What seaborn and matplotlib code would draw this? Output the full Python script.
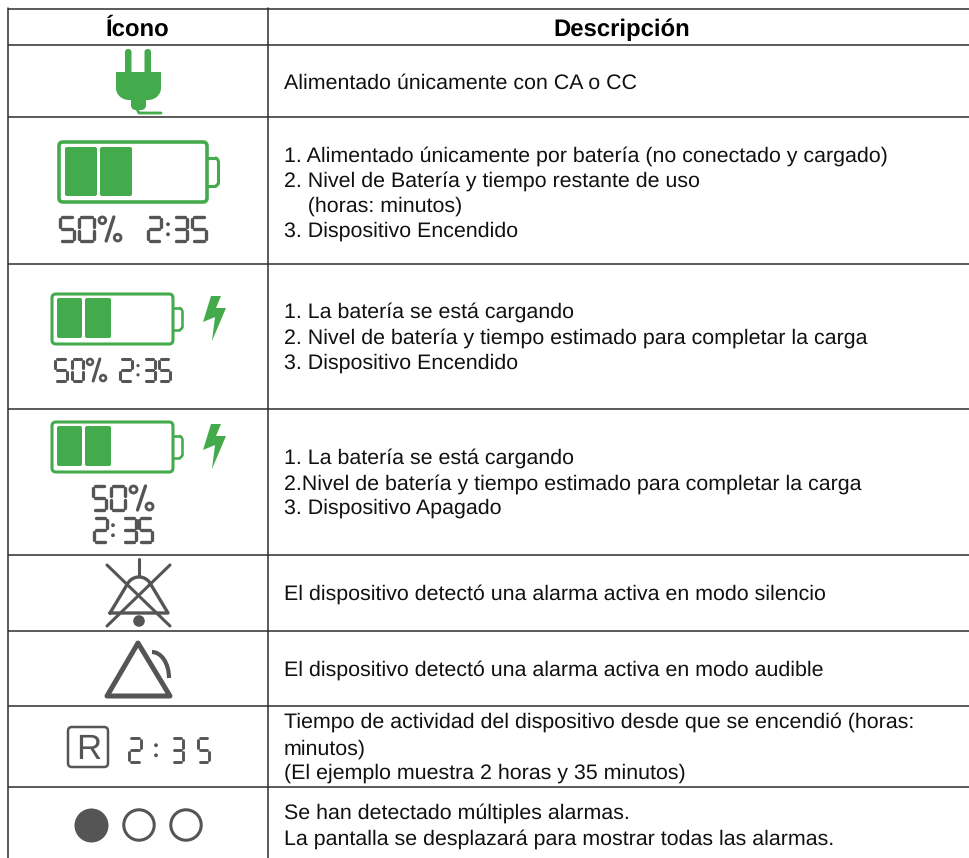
"""
Tabla de iconos del dispositivo (icono + descripcion)
"""

import numpy as np
import matplotlib.pyplot as plt
from matplotlib.patches import FancyBboxPatch, Polygon, Circle, Arc
import seaborn as sns

GREEN = '#43ab4c'
GREY = '#555555'

headers = ['Ícono', 'Descripción']

descriptions = [
    ['Alimentado únicamente con CA o CC'],
    ['1. Alimentado únicamente por batería (no conectado y cargado)',
     '2. Nivel de Batería y tiempo restante de uso',
     '    (horas: minutos)',
     '3. Dispositivo Encendido'],
    ['1. La batería se está cargando',
     '2. Nivel de batería y tiempo estimado para completar la carga',
     '3. Dispositivo Encendido'],
    ['1. La batería se está cargando',
     '2.Nivel de batería y tiempo estimado para completar la carga',
     '3. Dispositivo Apagado'],
    ['El dispositivo detectó una alarma activa en modo silencio'],
    ['El dispositivo detectó una alarma activa en modo audible'],
    ['Tiempo de actividad del dispositivo desde que se encendió (horas:',
     'minutos)',
     '(El ejemplo muestra 2 horas y 35 minutos)'],
    ['Se han detectado múltiples alarmas.',
     'La pantalla se desplazará para mostrar todas las alarmas.'],
]

# layout, in image pixels
row_lines = [9, 45, 117, 264, 409, 555, 631, 706, 787]
baselines = [
    [89],
    [162, 187, 212, 237],
    [318, 344, 369],
    [464, 490, 514],
    [600],
    [676],
    [728, 755, 779],
    [819, 845],
]

SEGMENTS = {'0': 'abcdef', '2': 'abged', '3': 'abgcd', '5': 'afgcd'}


def digit(ax, ch, x0, x1, y0, y1, lw=2.4):
    """One seven-segment digit in the box x0-x1, y0-y1"""
    ym = (y0 + y1) / 2
    g = (x1 - x0) * 0.16
    ends = {
        'a': ((x0 + g, y0), (x1 - g, y0)),
        'b': ((x1, y0 + g), (x1, ym - g)),
        'c': ((x1, ym + g), (x1, y1 - g)),
        'd': ((x0 + g, y1), (x1 - g, y1)),
        'e': ((x0, ym + g), (x0, y1 - g)),
        'f': ((x0, y0 + g), (x0, ym - g)),
        'g': ((x0 + g, ym), (x1 - g, ym)),
    }
    for s in SEGMENTS[ch]:
        (xa, ya), (xb, yb) = ends[s]
        ax.plot([xa, xb], [ya, yb], color=GREY, lw=lw, solid_capstyle='round')


def colon(ax, x, y0, y1, r=1.9):
    h = y1 - y0
    ax.add_patch(Circle((x, y0 + h * 0.3), r, color=GREY, lw=0))
    ax.add_patch(Circle((x, y0 + h * 0.72), r, color=GREY, lw=0))


def percent(ax, x0, x1, y0, y1, lw=2.4):
    w = x1 - x0
    h = y1 - y0
    r = w * 0.14
    ax.add_patch(Circle((x0 + r + 1, y0 + r + 1), r, fc='none', ec=GREY, lw=lw * 0.85))
    ax.add_patch(Circle((x1 - r - 1, y1 - r - 1), r, fc='none', ec=GREY, lw=lw * 0.85))
    ax.plot([x0 + w * 0.66, x0 + w * 0.34], [y0 + 1, y1 - 1], color=GREY, lw=lw, solid_capstyle='round')


def battery(ax, x0, x1, y0, y1, capx, capy0, capy1, bars, by0, by1, lw):
    ax.add_patch(FancyBboxPatch((x0, y0), x1 - x0, y1 - y0, boxstyle='round,pad=0,rounding_size=4',
                                fc='white', ec=GREEN, lw=lw))
    ax.plot([x1, capx - 3], [capy0, capy0], color=GREEN, lw=lw * 0.85)
    ax.plot([x1, capx - 3], [capy1, capy1], color=GREEN, lw=lw * 0.85)
    ax.add_patch(Arc((capx - 3, capy0 + 3), 6, 6, theta1=270, theta2=360, color=GREEN, lw=lw * 0.85))
    ax.add_patch(Arc((capx - 3, capy1 - 3), 6, 6, theta1=0, theta2=90, color=GREEN, lw=lw * 0.85))
    ax.plot([capx, capx], [capy0 + 3, capy1 - 3], color=GREEN, lw=lw * 0.85)
    for bx0, bx1 in bars:
        ax.add_patch(FancyBboxPatch((bx0, by0), bx1 - bx0, by1 - by0,
                                    boxstyle='round,pad=0,rounding_size=2', fc=GREEN, ec='none'))


def bolt(ax, dy):
    pts = [(211, 31), (221, 31), (216, 43), (226, 43), (212, 76), (215, 52), (203, 57)]
    ax.add_patch(Polygon([(x, y + dy) for x, y in pts], closed=True, fc=GREEN, ec='none'))


def plug(ax):
    for x0 in (125, 144.5):
        ax.add_patch(FancyBboxPatch((x0, 49), 6.5, 26, boxstyle='round,pad=0,rounding_size=3',
                                    fc=GREEN, ec='none'))
    t = np.linspace(0, np.pi / 2, 20)
    right = [(161 - 13 + 13 * np.cos(a), 88 + 12 * np.sin(a)) for a in t]
    left = [(116 + 13 - 13 * np.sin(a), 88 + 12 * np.cos(a)) for a in t]
    ax.add_patch(Polygon([(116, 72), (161, 72)] + right + left, closed=True, fc=GREEN, ec='none'))
    ax.add_patch(FancyBboxPatch((131, 96), 15, 14, boxstyle='round,pad=0,rounding_size=5',
                                fc=GREEN, ec='none'))
    ax.plot([137, 139, 161], [109, 113, 113], color=GREEN, lw=2, solid_joinstyle='round')


def silent_bell(ax):
    ax.plot([139, 139], [559, 576], color=GREY, lw=2.2, solid_capstyle='round')
    t = np.linspace(np.pi * 1.17, np.pi * 1.83, 25)
    dome = [(139 + 13 * np.cos(a), 590 + 13 * np.sin(a)) for a in t]
    xs = [110] + [p[0] for p in dome] + [168, 110]
    ys = [613] + [p[1] for p in dome] + [613, 613]
    ax.plot(xs, ys, color=GREY, lw=2.4, solid_joinstyle='round')
    ax.plot([107, 170], [565, 626], color=GREY, lw=2.2, solid_capstyle='round')
    ax.plot([170, 107], [565, 626], color=GREY, lw=2.2, solid_capstyle='round')
    ax.add_patch(Circle((139, 621), 5.8, color=GREY, lw=0))


def audible_bell(ax):
    ax.add_patch(Polygon([(138, 643), (170, 696), (107, 696)], closed=True, fc='white', ec=GREY,
                         lw=3.6, joinstyle='round'))
    ax.add_patch(Arc((152, 678), 34, 52, theta1=270, theta2=360, color=GREY, lw=3))


def main():
    sns.set_theme(style='white')
    plt.rcParams['font.family'] = ['Liberation Sans', 'DejaVu Sans']
    plt.rcParams['text.hinting'] = 'none'

    fig = plt.figure(figsize=(9.69, 8.58), dpi=100)
    ax = fig.add_axes([0, 0, 1, 1])
    ax.set_xlim(0, 969)
    ax.set_ylim(858, 0)
    ax.axis('off')

    # table grid
    for y in row_lines:
        ax.plot([8, 969], [y, y], color='#2e2e2e', lw=1.1, solid_capstyle='butt')
    ax.plot([8, 8], [8, 858], color='#2e2e2e', lw=1.1)
    ax.plot([268, 268], [8, 858], color='#2e2e2e', lw=1.1)

    # header and text
    ax.text(138, 36, headers[0], fontsize=17.2, fontweight='bold', ha='center', va='baseline', color='black')
    ax.text(622, 36, headers[1], fontsize=17.2, fontweight='bold', ha='center', va='baseline', color='black')
    for lines, ys in zip(descriptions, baselines):
        for line, y in zip(lines, ys):
            ax.text(284, y, line, fontsize=15.42, ha='left', va='baseline', color='#111111')

    # row 1
    plug(ax)

    # row 2
    battery(ax, 59, 207, 142, 202, 218, 158, 186, [(65, 97), (100, 132)], 147, 196, 2.6)
    digit(ax, '5', 60, 74, 217, 241)
    digit(ax, '0', 79, 94, 217, 241)
    percent(ax, 98, 122, 216, 242)
    digit(ax, '2', 148, 161, 217, 241)
    colon(ax, 168, 217, 241)
    digit(ax, '3', 174, 187, 217, 241)
    digit(ax, '5', 192, 206, 217, 241)

    # row 3
    battery(ax, 52, 173, 294, 344, 182, 308, 330, [(57, 82), (85, 111)], 298, 338, 2.2)
    bolt(ax, 265)
    digit(ax, '5', 55, 67, 359, 381, lw=2.2)
    digit(ax, '0', 72, 83, 359, 381, lw=2.2)
    percent(ax, 86, 107, 358, 382, lw=2.2)
    digit(ax, '2', 120, 132, 359, 381, lw=2.2)
    colon(ax, 138, 359, 381, r=1.6)
    digit(ax, '3', 144, 155, 359, 381, lw=2.2)
    digit(ax, '5', 159, 170, 359, 381, lw=2.2)

    # row 4
    battery(ax, 52, 173, 422, 472, 182, 436, 458, [(57, 82), (85, 111)], 426, 466, 2.2)
    bolt(ax, 393)
    digit(ax, '5', 93, 106, 486, 510)
    digit(ax, '0', 111, 125, 486, 510)
    percent(ax, 129, 154, 485, 511)
    digit(ax, '2', 94, 107, 518, 542)
    colon(ax, 113, 518, 542)
    digit(ax, '3', 123, 136, 518, 542)
    digit(ax, '5', 139, 152, 518, 542)

    # rows 5, 6
    silent_bell(ax)
    audible_bell(ax)

    # row 7
    ax.add_patch(FancyBboxPatch((68, 727), 40, 40, boxstyle='round,pad=0,rounding_size=4',
                                fc='none', ec=GREY, lw=1.8))
    ax.text(89, 759, 'R', fontsize=25, ha='center', va='baseline', color=GREY)
    digit(ax, '2', 129, 141, 738, 762, lw=2.1)
    colon(ax, 156, 738, 762)
    digit(ax, '3', 172, 183, 738, 762, lw=2.1)
    digit(ax, '5', 198, 209, 738, 762, lw=2.1)

    # row 8, scrolling alarm dots
    sns.scatterplot(x=[91], y=[825], s=600, color=GREY, linewidth=0, ax=ax, legend=False)
    sns.scatterplot(x=[139, 186], y=[825, 825], s=480, facecolor='none', edgecolor=GREY,
                    linewidth=2.2, ax=ax, legend=False)
    ax.set_xlim(0, 969)
    ax.set_ylim(858, 0)

    fig.savefig('out.png', dpi=100)


if __name__ == "__main__":
    main()
